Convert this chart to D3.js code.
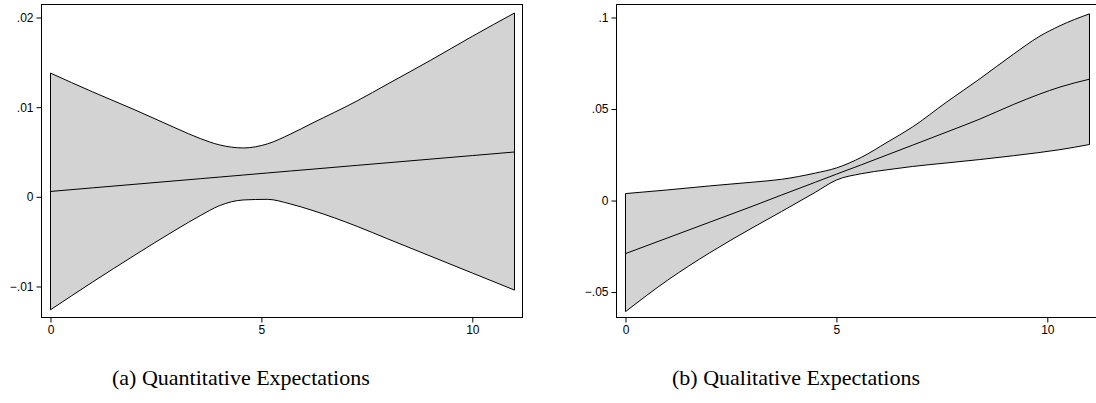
<!DOCTYPE html>
<html lang="en">
  <head>
    <meta charset="UTF-8" />
    <title>Expectations bands</title>
    <script src="https://d3js.org/d3.v7.min.js"></script>
    <style>
      body {
        margin: 0;
        background: #fff;
      }
      .tick text {
        font-family: "Liberation Sans", Arial, sans-serif;
        font-size: 12px;
        fill: #000;
      }
      .tick line {
        stroke: #000;
      }
      .band {
        fill: #d3d3d3;
        stroke: #000;
        stroke-width: 1;
      }
      .mid {
        fill: none;
        stroke: #000;
        stroke-width: 1;
      }
      .caption {
        font-family: "Liberation Serif", "Times New Roman", serif;
        font-size: 22px;
        fill: #000;
      }
    </style>
  </head>
  <body>
    <svg width="1096" height="403"></svg>
    <script>
      // panel (a): quantitative expectations
      const xA = [0, 1, 2, 3, 3.55, 4, 4.57, 5.14, 5.69, 6.2, 7.27, 8, 9, 10, 11];
      const upperA = [0.0138, 0.0117, 0.0097, 0.0076, 0.0065, 0.0058, 0.00545, 0.0059, 0.007, 0.0082, 0.0107, 0.0126, 0.0152, 0.0179, 0.0205];
      const lowerA = [-0.0126, -0.0095, -0.0065, -0.0036, -0.0021, -0.001, -0.00035, -0.00028, -0.0008, -0.0015, -0.0033, -0.0047, -0.0066, -0.0085, -0.0104];
      const midA = [0.0006, 0.001, 0.0014, 0.0018, 0.00202, 0.0022, 0.00243, 0.00266, 0.00288, 0.00308, 0.00351, 0.0038, 0.0042, 0.0046, 0.005];
      const yTicksA = [-0.01, 0, 0.01, 0.02];
      const yLabelsA = ["\u2212.01", "0", ".01", ".02"];

      // panel (b): qualitative expectations
      const xB = [0, 1, 2, 3, 3.7, 4.5, 5, 5.6, 6.2, 6.8, 7.6, 8.4, 9.2, 9.8, 10.3, 11];
      const upperB = [0.0038, 0.0058, 0.008, 0.01, 0.0116, 0.015, 0.0178, 0.0237, 0.0318, 0.0401, 0.0536, 0.0665, 0.08, 0.0895, 0.0955, 0.102];
      const lowerB = [-0.0607, -0.0435, -0.0285, -0.015, -0.006, 0.0045, 0.0112, 0.0147, 0.0168, 0.0186, 0.0205, 0.0224, 0.0245, 0.0262, 0.0278, 0.0306];
      const midB = [-0.029, -0.0204, -0.0118, -0.0032, 0.003, 0.01, 0.0144, 0.0196, 0.0249, 0.0302, 0.0373, 0.0445, 0.0525, 0.058, 0.062, 0.0663];
      const yTicksB = [-0.05, 0, 0.05, 0.1];
      const yLabelsB = ["\u2212.05", "0", ".05", ".1"];

      const xTicks = [0, 5, 10];

      const svg = d3.select("svg");

      function panel(opts) {
        const { left, right, top, bottom } = opts;
        const x = d3.scaleLinear().domain([-0.213, 11.19]).range([left, right]);
        const y = d3.scaleLinear().domain(opts.yDomain).range([bottom, top]);
        const g = svg.append("g");

        const rows = opts.xs.map((v, i) => ({
          x: v,
          lo: opts.lower[i],
          hi: opts.upper[i],
          mid: opts.mid[i],
        }));

        // the area path is closed, so stroking it also draws the end edges
        g.append("path")
          .attr("class", "band")
          .attr(
            "d",
            d3.area()
              .x((d) => x(d.x))
              .y0((d) => y(d.lo))
              .y1((d) => y(d.hi))
              .curve(d3.curveMonotoneX)(rows)
          );

        g.append("path")
          .attr("class", "mid")
          .attr("d", d3.line().x((d) => x(d.x)).y((d) => y(d.mid)).curve(d3.curveMonotoneX)(rows));

        g.append("rect")
          .attr("x", left)
          .attr("y", top)
          .attr("width", right - left)
          .attr("height", bottom - top)
          .attr("fill", "none")
          .attr("stroke", "#000")
          .attr("stroke-width", 1);

        g.append("g")
          .attr("transform", `translate(${left},0)`)
          .call(
            d3.axisLeft(y)
              .tickValues(opts.yTicks)
              .tickFormat((d, i) => opts.yLabels[i])
              .tickSize(5)
              .tickPadding(3)
          )
          .call((a) => a.select(".domain").remove());

        g.append("g")
          .attr("transform", `translate(0,${bottom})`)
          .call(d3.axisBottom(x).tickValues(xTicks).tickFormat(d3.format("d")).tickSize(5).tickPadding(3))
          .call((a) => a.select(".domain").remove());

        svg.append("text")
          .attr("class", "caption")
          .attr("x", opts.capX)
          .attr("y", 385)
          .text(opts.caption);
      }

      panel({
        left: 41.5, right: 522.5, top: 4.5, bottom: 317.5,
        yDomain: [-0.01346, 0.02145],
        xs: xA, upper: upperA, lower: lowerA, mid: midA,
        yTicks: yTicksA, yLabels: yLabelsA,
        capX: 112, caption: "(a) Quantitative Expectations",
      });

      panel({
        left: 616.5, right: 1097.5, top: 4.5, bottom: 317.5,
        yDomain: [-0.0639, 0.1071],
        xs: xB, upper: upperB, lower: lowerB, mid: midB,
        yTicks: yTicksB, yLabels: yLabelsB,
        capX: 672, caption: "(b) Qualitative Expectations",
      });
    </script>
  </body>
</html>
